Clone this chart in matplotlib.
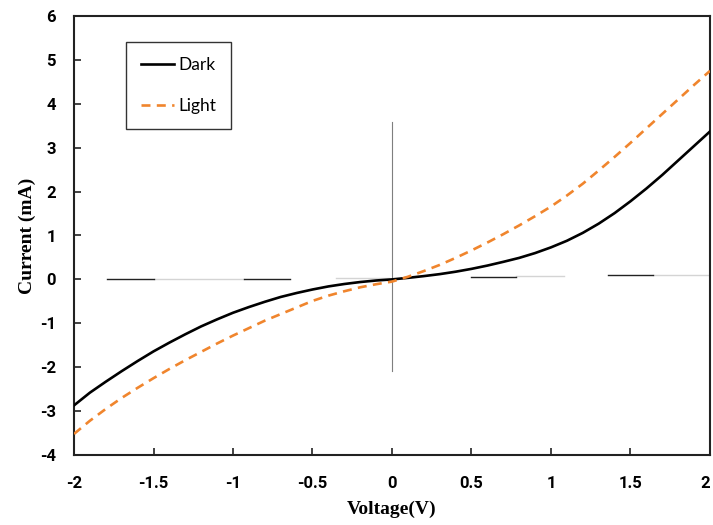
import matplotlib
matplotlib.use("Agg")
import matplotlib.pyplot as plt
from matplotlib.font_manager import FontProperties

# ---- data ----
voltage = [-2.0, -1.9, -1.8, -1.7, -1.6, -1.5, -1.4, -1.3, -1.2, -1.1,
           -1.0, -0.9, -0.8, -0.7, -0.6, -0.5, -0.4, -0.3, -0.2, -0.1,
           0.0, 0.1, 0.2, 0.3, 0.4, 0.5, 0.6, 0.7, 0.8, 0.9,
           1.0, 1.1, 1.2, 1.3, 1.4, 1.5, 1.6, 1.7, 1.8, 1.9, 2.0]
dark = [-2.87, -2.58, -2.33, -2.09, -1.86, -1.64, -1.44, -1.25, -1.07, -0.91,
        -0.76, -0.63, -0.51, -0.40, -0.31, -0.23, -0.16, -0.105, -0.06, -0.025,
        0.00, 0.035, 0.075, 0.12, 0.175, 0.24, 0.315, 0.40, 0.49, 0.60,
        0.73, 0.88, 1.06, 1.27, 1.51, 1.78, 2.07, 2.38, 2.71, 3.04, 3.37]
light = [-3.52, -3.22, -2.95, -2.70, -2.47, -2.25, -2.04, -1.84, -1.65, -1.46,
         -1.28, -1.11, -0.94, -0.79, -0.64, -0.49, -0.37, -0.27, -0.18, -0.11,
         -0.05, 0.06, 0.19, 0.33, 0.49, 0.66, 0.84, 1.03, 1.23, 1.44,
         1.66, 1.91, 2.18, 2.48, 2.79, 3.11, 3.44, 3.77, 4.10, 4.43, 4.75]
series_labels = ["Dark", "Light"]

# thin reference lines drawn in the original
vline_x = 0.0
vline_y = [-2.09, 3.59]
hseg_x0 = [-1.79, -0.93, 0.50, 1.36]
hseg_x1 = [-1.50, -0.64, 0.78, 1.64]
hseg_y = [0.00, 0.02, 0.06, 0.09]
hgrey_x0 = [-1.50, -0.35, 0.78, 1.64]
hgrey_x1 = [-0.93, -0.02, 1.08, 2.00]
hgrey_y = [0.01, 0.04, 0.07, 0.10]

x_ticks = [-2, -1.5, -1, -0.5, 0, 0.5, 1, 1.5, 2]
x_ticklabels = ["-2", "-1.5", "-1", "-0.5", "0", "0.5", "1", "1.5", "2"]
y_ticks = [-4, -3, -2, -1, 0, 1, 2, 3, 4, 5, 6]
y_ticklabels = [str(v) for v in y_ticks]

# ---- figure ----
fig = plt.figure(figsize=(7.13, 5.25), dpi=100)
ax = fig.add_axes([74/713, 70/525, 636/713, 439/525])

ax.plot([vline_x, vline_x], vline_y, color="#7f7f7f", lw=0.8, zorder=1)
for x0, x1, y in zip(hgrey_x0, hgrey_x1, hgrey_y):
    ax.plot([x0, x1], [y, y], color="#d4d4d4", lw=1.0, zorder=1)
for x0, x1, y in zip(hseg_x0, hseg_x1, hseg_y):
    ax.plot([x0, x1], [y, y], color="#222222", lw=1.0, zorder=1)

ax.plot(voltage, dark, color="black", lw=1.9, label=series_labels[0], zorder=3)
ax.plot(voltage, light, color="#F0852D", lw=1.9, linestyle=(0, (3.4, 2.4)),
        label=series_labels[1], zorder=3)

ax.set_xlim(-2, 2)
ax.set_ylim(-4, 6)
ax.set_xticks(x_ticks)
ax.set_xticklabels(x_ticklabels)
ax.set_yticks(y_ticks)
ax.set_yticklabels(y_ticklabels)

tick_fp = FontProperties(family="Roboto", weight="bold", size=12)
for lab in ax.get_xticklabels() + ax.get_yticklabels():
    lab.set_fontproperties(tick_fp)
# keep the last x label inside the canvas
ax.get_xticklabels()[-1].set_horizontalalignment("right")

ax.tick_params(axis="both", direction="in", length=5, width=1.2, color="#222222")
ax.tick_params(axis="x", pad=15)
ax.tick_params(axis="y", pad=13)
for sp in ax.spines.values():
    sp.set_linewidth(1.5)
    sp.set_color("#222222")

label_font = dict(family="Liberation Serif", weight="bold", size=14)
ax.set_xlabel("Voltage(V)", **label_font)
ax.set_ylabel("Current (mA)", **label_font)
ax.xaxis.set_label_coords(0.5, -0.105)
ax.yaxis.set_label_coords(-0.060, 0.5)

leg = ax.legend(loc="upper left", bbox_to_anchor=(0.082, 0.941),
                prop=dict(family="Lato", size=12.5), frameon=True, fancybox=False,
                edgecolor="black", borderpad=0.85, labelspacing=1.45,
                handlelength=1.9, handletextpad=0.25, borderaxespad=0)
leg.get_frame().set_linewidth(1.0)

fig.savefig("out.png", dpi=100)
